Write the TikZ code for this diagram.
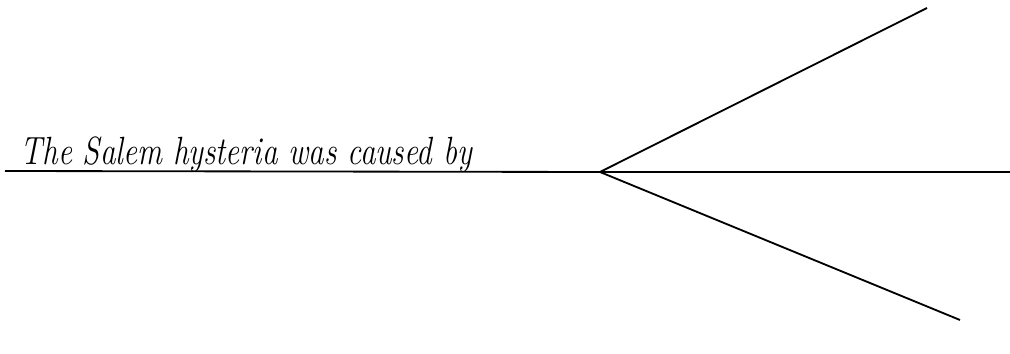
\documentclass[tikz,border=0pt]{standalone}
\usepackage{tikz}

\begin{document}
\begin{tikzpicture}[line width=1.3pt]
  \useasboundingbox (0,0) rectangle (25.25,8.825);
  \coordinate (start) at (.125,4.55);
  \coordinate (fork) at (15,4.525);
  \coordinate (end) at (25.25,4.525);
  \coordinate (upper) at (23.175,8.625);
  \coordinate (lower) at (24,.825);
  \draw (start) -- (fork) -- (end);
  \draw (fork) -- (upper);
  \draw (fork) -- (lower);
  \node[anchor=base west,inner sep=0pt,xscale=.79,font=\fontsize{28}{32}\selectfont\itshape]
    (claim) at (.5,4.72) {The Salem hysteria was caused by};
\end{tikzpicture}
\end{document}
